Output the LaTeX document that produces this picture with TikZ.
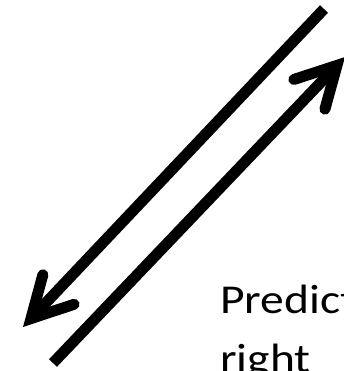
\documentclass[tikz,border=0pt]{standalone}
\usepackage{fontspec}
\setmainfont{Carlito}
\usetikzlibrary{arrows.meta,positioning}
\newcommand\widetext[1]{\scalebox{1.16}[1]{#1}}
\begin{document}
\begin{tikzpicture}[x=1pt,y=-1pt]
  \useasboundingbox (0,0) rectangle (344,371);
  \tikzset{fat/.style={line width=11pt,
      -{Straight Barb[line cap=round,line join=miter,length=40pt,width=43pt]}},
    lbl/.style={anchor=base west,inner sep=0pt,font=\fontsize{41}{49}\selectfont}}
  \coordinate (dtop) at (324,9);
  \coordinate (dtip) at (23,327);
  \coordinate (ubot) at (53,363);
  \coordinate (utip) at (345,57);
  \draw[fat] (dtop) -- (dtip);
  \draw[fat] (ubot) -- (utip);
  \node[lbl] (pred) at (220,313) {\widetext{Predict}};
  \node[lbl] (rgt) at (220,372) {\widetext{right}};
\end{tikzpicture}
\end{document}
